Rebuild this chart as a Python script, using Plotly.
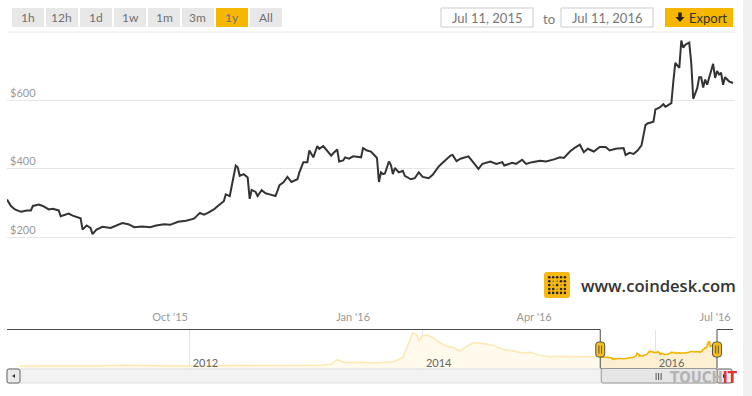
import pandas as pd
import plotly.graph_objects as go

W, H = 752, 396

# ---------------- data ----------------
start_date = "2015-07-11"
end_date = "2016-07-11"
day_offsets = [0, 2, 4, 7, 10, 12, 13, 16, 18, 21, 23, 26, 27, 31, 33, 37, 38, 40, 42, 43,
               45, 48, 52, 54, 58, 61, 64, 68, 72, 75, 79, 82, 86, 90, 94, 97, 99, 101, 104, 106,
               109, 110, 112, 113, 115, 116, 117, 119, 120, 121, 122, 123, 125, 126, 128, 130, 132, 135, 137, 139,
               141, 143, 146, 147, 149, 151, 152, 154, 156, 157, 159, 161, 163, 164, 166, 167, 169, 170, 172, 174,
               177, 178, 179, 181, 183, 185, 186, 187, 188, 189, 190, 192, 193, 194, 195, 197, 199, 200, 203, 205,
               207, 209, 212, 214, 217, 219, 223, 224, 226, 228, 232, 234, 237, 239, 243, 246, 249, 250, 254, 256,
               259, 261, 264, 268, 271, 275, 278, 280, 283, 286, 288, 290, 292, 295, 296, 298, 301, 303, 306, 310,
               311, 313, 315, 317, 319, 320, 321, 322, 325, 326, 328, 330, 331, 332, 334, 335, 336, 338, 339, 340,
               341, 343, 344, 345, 347, 348, 349, 350, 351, 352, 354, 355, 356, 357, 358, 359, 360, 361, 363, 365]
prices = [311, 292, 282, 275, 279, 279, 292, 296, 292, 282, 284, 279, 262, 270, 264, 256, 223, 235, 228, 210,
          223, 231, 228, 232, 242, 239, 230, 232, 230, 235, 239, 237, 246, 249, 255, 272, 267, 272, 282, 292,
          306, 326, 321, 351, 410, 405, 380, 385, 380, 375, 313, 339, 333, 321, 338, 329, 326, 321, 353, 361,
          377, 362, 370, 390, 420, 420, 454, 434, 467, 459, 467, 454, 439, 446, 457, 422, 425, 434, 430, 437,
          434, 434, 461, 454, 451, 436, 432, 362, 390, 385, 387, 422, 412, 385, 403, 390, 395, 380, 370, 373,
          390, 377, 373, 383, 407, 418, 439, 441, 423, 430, 437, 422, 400, 415, 422, 415, 420, 410, 418, 415,
          427, 415, 420, 424, 422, 428, 434, 432, 451, 464, 471, 449, 459, 451, 456, 464, 464, 454, 459, 461,
          441, 447, 444, 454, 469, 498, 528, 533, 538, 574, 579, 589, 582, 585, 592, 656, 710, 695, 775, 754,
          763, 769, 710, 605, 636, 668, 668, 638, 661, 646, 684, 707, 666, 686, 676, 681, 646, 668, 656, 651]

# full-history overview shown in the navigator (before the selected year)
history_dates = ["2010-07-18", "2010-12-01", "2011-03-01", "2011-06-08", "2011-09-01", "2011-11-18",
                 "2012-03-01", "2012-08-15", "2012-12-01", "2013-02-15", "2013-03-20", "2013-04-07",
                 "2013-05-01", "2013-06-19", "2013-08-01", "2013-10-01", "2013-10-31", "2013-11-16",
                 "2013-11-30", "2013-12-13", "2013-12-20", "2013-12-28", "2014-01-13", "2014-02-03",
                 "2014-02-24", "2014-03-17", "2014-04-06", "2014-04-27", "2014-05-18", "2014-06-08",
                 "2014-07-09", "2014-08-10", "2014-09-10", "2014-10-11", "2014-11-12", "2014-12-03",
                 "2015-01-03", "2015-02-03", "2015-03-07", "2015-04-28", "2015-06-19", "2015-07-11"]
history_prices = [0.1, 0.3, 0.9, 25, 6, 3, 5, 12, 13, 27, 60, 200,
                  110, 120, 100, 140, 280, 700, 1066, 1000, 780, 950, 1000, 900,
                  740, 640, 590, 480, 630, 740, 720, 660, 530, 480, 420, 440,
                  340, 300, 310, 300, 320, 311]

range_buttons = ["1h", "12h", "1d", "1w", "1m", "3m", "1y", "All"]
selected_button = "1y"
y_ticks = [200, 400, 600, 800]
y_ticktext = ["$200", "$400", "$600", ""]

dates = pd.Timestamp(start_date) + pd.to_timedelta(day_offsets, unit="D")

# ---------------- helpers (pixel -> paper) ----------------
def px(x):
    return x / W


def py(y):
    return 1 - y / H


NAV_L, NAV_R = 20, 717
nav_r0 = pd.Timestamp(history_dates[0])
nav_r1 = pd.Timestamp(end_date)
NAV_YMIN, NAV_YMAX = -86, 1168


def nav_px(d):
    d = pd.Timestamp(d)
    return NAV_L + (d - nav_r0) / (nav_r1 - nav_r0) * (NAV_R - NAV_L)


def rrect(x0, y0, x1, y1, r):
    return (f"M {px(x0 + r)},{py(y0)} L {px(x1 - r)},{py(y0)} Q {px(x1)},{py(y0)} {px(x1)},{py(y0 + r)} "
            f"L {px(x1)},{py(y1 - r)} Q {px(x1)},{py(y1)} {px(x1 - r)},{py(y1)} "
            f"L {px(x0 + r)},{py(y1)} Q {px(x0)},{py(y1)} {px(x0)},{py(y1 - r)} "
            f"L {px(x0)},{py(y0 + r)} Q {px(x0)},{py(y0)} {px(x0 + r)},{py(y0)} Z")


FONT = "Lato, 'Open Sans', sans-serif"
GOLD = "#f6b700"

fig = go.Figure()

# main price line
fig.add_trace(go.Scatter(x=dates, y=prices, mode="lines", line=dict(color="#333333", width=2),
                         xaxis="x", yaxis="y", hoverinfo="skip", showlegend=False))

# navigator: history part (pale) and selected part (strong)
hist_x = pd.to_datetime(history_dates)
fig.add_trace(go.Scatter(x=[hist_x[0], hist_x[-1]], y=[NAV_YMIN, NAV_YMIN], mode="lines",
                         line=dict(width=0, color="rgba(0,0,0,0)"), xaxis="x2", yaxis="y2",
                         hoverinfo="skip", showlegend=False))
fig.add_trace(go.Scatter(x=hist_x, y=history_prices, mode="lines", fill="tonexty",
                         fillcolor="#fffaec", line=dict(color="#fbe8b2", width=1.5),
                         xaxis="x2", yaxis="y2", hoverinfo="skip", showlegend=False))
fig.add_trace(go.Scatter(x=[dates[0], dates[-1]], y=[NAV_YMIN, NAV_YMIN], mode="lines",
                         line=dict(width=0, color="rgba(0,0,0,0)"), xaxis="x2", yaxis="y2",
                         hoverinfo="skip", showlegend=False))
fig.add_trace(go.Scatter(x=dates, y=prices, mode="lines", fill="tonexty",
                         fillcolor="#fdf0d2", line=dict(color="#f0b400", width=1.5),
                         xaxis="x2", yaxis="y2", hoverinfo="skip", showlegend=False))

shapes = []
annotations = []

# right grey strip
shapes.append(dict(type="rect", xref="paper", yref="paper", x0=px(743), x1=1, y0=0, y1=1,
                   fillcolor="#f1f1f1", line=dict(width=0), layer="below"))

# top gridline ($800)
shapes.append(dict(type="line", xref="paper", yref="y", x0=px(7), x1=px(735), y0=y_ticks[-1], y1=y_ticks[-1],
                   line=dict(color="#e6e6e6", width=1), layer="below"))

# range buttons
bx = 12
for lab in range_buttons:
    sel = lab == selected_button
    shapes.append(dict(type="rect", xref="paper", yref="paper", x0=px(bx), x1=px(bx + 32),
                       y0=py(27), y1=py(8), fillcolor=GOLD if sel else "#e8e8e8",
                       line=dict(width=0), layer="above"))
    annotations.append(dict(x=px(bx + 16), y=py(17.5), xref="paper", yref="paper", text=lab,
                            showarrow=False, font=dict(family=FONT, size=12, color="#707070"),
                            xanchor="center", yanchor="middle"))
    bx += 34

# date boxes
for (x0, x1, txt) in [(441, 533, "Jul 11, 2015"), (561, 653, "Jul 11, 2016")]:
    shapes.append(dict(type="rect", xref="paper", yref="paper", x0=px(x0), x1=px(x1),
                       y0=py(27), y1=py(8), fillcolor="white", line=dict(color="#cccccc", width=1)))
    annotations.append(dict(x=px((x0 + x1) / 2), y=py(17.5), xref="paper", yref="paper", text=txt,
                            showarrow=False, font=dict(family=FONT, size=13, color="#777777"),
                            xanchor="center", yanchor="middle"))
annotations.append(dict(x=px(549), y=py(19), xref="paper", yref="paper", text="to", showarrow=False,
                        font=dict(family=FONT, size=13, color="#777777"), xanchor="center", yanchor="middle"))

# export button
shapes.append(dict(type="rect", xref="paper", yref="paper", x0=px(665), x1=px(733), y0=py(27), y1=py(8),
                   fillcolor=GOLD, line=dict(width=0)))
arrow = (f"M {px(678.3)},{py(12.5)} L {px(681.7)},{py(12.5)} L {px(681.7)},{py(17)} L {px(684.5)},{py(17)} "
         f"L {px(680)},{py(22)} L {px(675.5)},{py(17)} L {px(678.3)},{py(17)} Z")
shapes.append(dict(type="path", xref="paper", yref="paper", path=arrow, fillcolor="#222222",
                   line=dict(width=0)))
annotations.append(dict(x=px(708), y=py(17.5), xref="paper", yref="paper", text="Export", showarrow=False,
                        font=dict(family=FONT, size=13, color="#333333"), xanchor="center", yanchor="middle"))

# coindesk logo
shapes.append(dict(type="path", xref="paper", yref="paper", path=rrect(544, 272, 570, 298, 3),
                   fillcolor="#f7b813", line=dict(width=0)))
pattern = ["11111", "10011", "10101", "11011", "11111"]
for j, row in enumerate(pattern):
    for i, c in enumerate(row):
        cx, cy = 549.3 + i * 3.9, 277.3 + j * 3.9
        r = 1.3 if c == "1" else 0.6
        shapes.append(dict(type="circle", xref="paper", yref="paper", x0=px(cx - r), x1=px(cx + r),
                           y0=py(cy + r), y1=py(cy - r), fillcolor="#2a2a2a", line=dict(width=0)))
annotations.append(dict(x=px(579), y=py(285), xref="paper", yref="paper", text="www.coindesk.com",
                        showarrow=False, font=dict(family="'Open Sans', Lato, sans-serif", size=16.6,
                                                   color="#333333", weight=600),
                        xanchor="left", yanchor="middle"))

# navigator outline
hx0 = nav_px(start_date)
hx1 = nav_px(end_date)
NT, NB = 329.5, 368.5
outline = (f"M {px(7)},{py(NT)} L {px(hx0)},{py(NT)} L {px(hx0)},{py(NB)} L {px(hx1)},{py(NB)} "
           f"L {px(hx1)},{py(NT)} L {px(733)},{py(NT)}")
shapes.append(dict(type="path", xref="paper", yref="paper", path=outline, fillcolor="rgba(0,0,0,0)",
                   line=dict(color="#4a4a4a", width=1), layer="above"))

# scrollbar
ST, SB = 369, 383
shapes.append(dict(type="rect", xref="paper", yref="paper", x0=px(7), x1=px(732), y0=py(SB), y1=py(ST),
                   fillcolor="#f2f2f2", line=dict(color="#dddddd", width=1)))
for (x0, x1, tri) in [(7, 20, "L"), (717, 732, "R")]:
    shapes.append(dict(type="path", xref="paper", yref="paper", path=rrect(x0, ST, x1, SB, 2),
                       fillcolor="#ebebeb", line=dict(color="#666666", width=1)))
    cx = (x0 + x1) / 2
    if tri == "L":
        tp = f"M {px(cx + 1.5)},{py(374)} L {px(cx + 1.5)},{py(378)} L {px(cx - 1.5)},{py(376)} Z"
    else:
        tp = f"M {px(cx - 1.5)},{py(374)} L {px(cx - 1.5)},{py(378)} L {px(cx + 1.5)},{py(376)} Z"
    shapes.append(dict(type="path", xref="paper", yref="paper", path=tp, fillcolor="#333333",
                       line=dict(width=0)))
shapes.append(dict(type="path", xref="paper", yref="paper", path=rrect(hx0 + 1, NB, hx1, SB, 2),
                   fillcolor="#e6e6e6", line=dict(color="#999999", width=1)))
gx = (hx0 + hx1) / 2
for dx in (-2.5, 0, 2.5):
    shapes.append(dict(type="line", xref="paper", yref="paper", x0=px(gx + dx), x1=px(gx + dx),
                       y0=py(380), y1=py(373), line=dict(color="#555555", width=1)))

# navigator handles
for hx in (hx0, hx1):
    shapes.append(dict(type="path", xref="paper", yref="paper", path=rrect(hx - 4.5, 342, hx + 4.5, 357, 3),
                       fillcolor="#f5be1a", line=dict(color="#555555", width=1), layer="above"))
    for dx in (-1.3, 1.3):
        shapes.append(dict(type="line", xref="paper", yref="paper", x0=px(hx + dx), x1=px(hx + dx),
                           y0=py(353.5), y1=py(345.5), line=dict(color="#555555", width=1), layer="above"))

# watermark
annotations.append(dict(x=px(740), y=py(378), xref="paper", yref="paper",
                        text="<b>TOUCH<span style='color:#e2342b'>IT</span></b>", showarrow=False,
                        font=dict(family="'Liberation Sans Narrow', 'DejaVu Sans Condensed', Roboto, sans-serif",
                                  size=15, color="#b4b4b4"),
                        xanchor="right", yanchor="middle"))

fig.update_layout(
    width=W, height=H, margin=dict(l=0, r=0, t=0, b=0),
    paper_bgcolor="white", plot_bgcolor="rgba(0,0,0,0)",
    showlegend=False, hovermode=False,
    xaxis=dict(domain=[px(7), px(735)], range=[start_date, end_date], anchor="y",
               tick0="2015-10-01", dtick="M3", tickformat="%b '%y", showgrid=False, showline=False,
               zeroline=False, ticks="", ticklabelstandoff=3,
               tickfont=dict(family=FONT, size=11, color="#999999"), fixedrange=True),
    yaxis=dict(domain=[py(306), py(31.3)], range=[0, 802], anchor="x", tickvals=y_ticks,
               ticktext=y_ticktext, ticklabelposition="inside top", gridcolor="#e6e6e6", gridwidth=1,
               showline=False, zeroline=False, ticks="",
               tickfont=dict(family=FONT, size=11, color="#999999"), fixedrange=True),
    xaxis2=dict(domain=[px(NAV_L), px(NAV_R)], range=[history_dates[0], end_date], anchor="y2",
                tick0="2012-01-01", dtick="M24", tickformat="%Y", showgrid=True, gridcolor="#e4e4e4",
                ticklabelposition="inside right", ticklabelstandoff=-6, ticklabelshift=3,
                showline=False, zeroline=False, ticks="",
                tickfont=dict(family=FONT, size=11, color="#666666"), fixedrange=True),
    yaxis2=dict(domain=[py(368.7), py(329.5)], range=[NAV_YMIN, NAV_YMAX], anchor="x2",
                showticklabels=False, showgrid=False, zeroline=False, showline=False, fixedrange=True),
    shapes=shapes, annotations=annotations,
)

fig.write_html("out.html", config={"displayModeBar": False, "staticPlot": True},
               post_script="document.body.style.margin='0';document.body.style.overflow='hidden';")
